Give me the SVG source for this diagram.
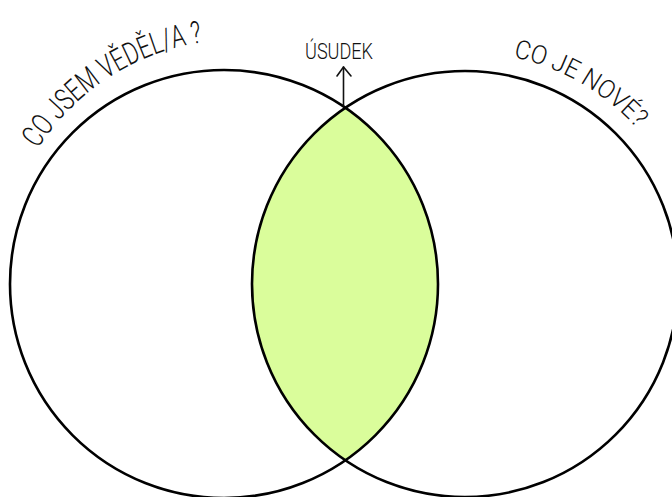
<svg xmlns="http://www.w3.org/2000/svg" width="672" height="497" viewBox="0 0 672 497">
  <style>
    .circle { fill: none; stroke: #000; stroke-width: 2.6; }
    .lens { fill: #dafd9b; stroke: none; }
    .hand { font-family: Roboto, "Liberation Sans", sans-serif; fill: #111; font-weight: 300; }
    .conn { fill: none; stroke: #111; stroke-width: 1.6; stroke-linecap: round; stroke-linejoin: round; }
  </style>
  <defs>
    <path id="arcLeft" d="M 37.9 148.8 A 236 236 0 0 1 205 42"/>
    <path id="arcRight" d="M 513.2 57.1 A 232 232 0 0 1 637.4 128.8"/>
  </defs>
  <rect width="672" height="497" fill="#fff"/>
  <g id="intersection">
    <path class="lens" d="M 345.39 107.76 A 214 214 0 0 1 345.39 460.24 A 213 213 0 0 1 345.39 107.76 Z"/>
  </g>
  <g id="known">
    <circle class="circle" cx="224" cy="284" r="214"/>
    <text class="hand" font-size="31"><textPath href="#arcLeft" textLength="202" lengthAdjust="spacingAndGlyphs">CO JSEM VĚDĚL/A ?</textPath></text>
  </g>
  <g id="new">
    <circle class="circle" cx="465" cy="284" r="213"/>
    <text class="hand" font-size="26"><textPath href="#arcRight" textLength="145" lengthAdjust="spacingAndGlyphs">CO JE NOVÉ?</textPath></text>
  </g>
  <g id="judgement">
    <text class="hand" x="305" y="59" font-size="22" textLength="68" lengthAdjust="spacingAndGlyphs">ÚSUDEK</text>
  </g>
  <g id="connectors">
    <path class="conn" d="M 343.5 106 L 343.5 67"/>
    <path class="conn" d="M 337 76 L 343.5 67 L 351 76"/>
  </g>
</svg>
